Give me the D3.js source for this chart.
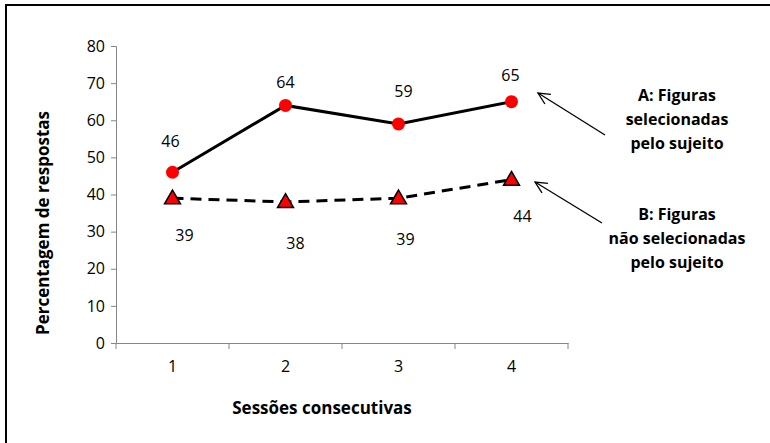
<!DOCTYPE html>
<html>
<head>
<meta charset="utf-8">
<script src="https://cdn.jsdelivr.net/npm/d3@7"></script>
<style>
  html, body { margin: 0; padding: 0; background: #fff; }
  svg { display: block; }
  text { font-family: "Liberation Sans Narrow", "Open Sans", "Noto Sans", sans-serif; fill: #000; }
</style>
</head>
<body>
<svg id="chart" width="770" height="443"></svg>
<script>
// Sessions and percentages of responses per series
const sessions = ["1", "2", "3", "4"];
const selected = [46, 64, 59, 65];      // A: figures selected by the subject
const notSelected = [39, 38, 39, 44];   // B: figures not selected by the subject
const yTicks = [0, 10, 20, 30, 40, 50, 60, 70, 80];

// Label offsets (dx, dy) relative to each point
const selectedLabelOffset = [[-2, -31], [0, -23], [5, -33], [-1, -26]];
const notSelectedLabelOffset = [[12, 37], [10, 41], [7, 41], [11, 37]];

const svg = d3.select("#chart");
const plot = { left: 116, right: 568, top: 46, bottom: 343 };

const x = d3.scaleBand().domain(sessions).range([plot.left, plot.right]);
const y = d3.scaleLinear().domain([0, 80]).range([plot.bottom, plot.top]);
const cx = s => x(s) + x.bandwidth() / 2;

// Frame (top and left edges)
svg.append("path")
  .attr("d", "M6,443 V5 H770")
  .attr("fill", "none").attr("stroke", "#000").attr("stroke-width", 2);

// Y axis
const yAxis = svg.append("g")
  .attr("transform", `translate(${plot.left},0)`)
  .call(d3.axisLeft(y).tickValues(yTicks).tickSize(5).tickPadding(6));
yAxis.select(".domain").attr("stroke", "#868686");
yAxis.selectAll(".tick line").attr("stroke", "#868686");
yAxis.selectAll(".tick text").attr("font-size", 16).attr("fill", "#000");

// X axis with ticks on band boundaries
const xAxis = svg.append("g")
  .attr("transform", `translate(0,${plot.bottom})`)
  .call(d3.axisBottom(x).tickSize(0).tickPadding(18));
xAxis.select(".domain").attr("stroke", "#868686");
xAxis.selectAll(".tick text").attr("font-size", 16).attr("fill", "#000");
xAxis.selectAll(".bound")
  .data(sessions.map(s => x(s)).concat([plot.right]))
  .join("line")
  .attr("class", "bound")
  .attr("x1", d => d).attr("x2", d => d)
  .attr("y1", 0).attr("y2", 6)
  .attr("stroke", "#868686");

// Axis titles
svg.append("text")
  .attr("transform", `translate(49,223) rotate(-90)`)
  .attr("text-anchor", "middle")
  .attr("font-size", 17).attr("font-weight", "bold")
  .text("Percentagem de respostas");

svg.append("text")
  .attr("x", 322).attr("y", 414)
  .attr("text-anchor", "middle")
  .attr("font-size", 17).attr("font-weight", "bold")
  .text("Sessões consecutivas");

// Series lines
const line = d3.line().x((d, i) => cx(sessions[i])).y(d => y(d));

svg.append("path")
  .datum(notSelected)
  .attr("d", line)
  .attr("fill", "none").attr("stroke", "#000")
  .attr("stroke-width", 3).attr("stroke-dasharray", "11,7");

svg.append("path")
  .datum(selected)
  .attr("d", line)
  .attr("fill", "none").attr("stroke", "#000")
  .attr("stroke-width", 3);

// Markers
svg.selectAll(".circ")
  .data(selected)
  .join("circle")
  .attr("class", "circ")
  .attr("cx", (d, i) => cx(sessions[i]))
  .attr("cy", d => y(d))
  .attr("r", 6.5)
  .attr("fill", "#ff0000");

const tri = d3.symbol().type(d3.symbolTriangle).size(110);
svg.selectAll(".tri")
  .data(notSelected)
  .join("path")
  .attr("class", "tri")
  .attr("transform", (d, i) => `translate(${cx(sessions[i])},${y(d) + 1})`)
  .attr("d", tri)
  .attr("fill", "#ff0000")
  .attr("stroke", "#000").attr("stroke-width", 1.5);

// Data labels
svg.selectAll(".labA")
  .data(selected)
  .join("text")
  .attr("class", "labA")
  .attr("x", (d, i) => cx(sessions[i]) + selectedLabelOffset[i][0])
  .attr("y", (d, i) => y(d) + selectedLabelOffset[i][1])
  .attr("dy", "0.35em")
  .attr("text-anchor", "middle")
  .attr("font-size", 16)
  .text(d => d);

svg.selectAll(".labB")
  .data(notSelected)
  .join("text")
  .attr("class", "labB")
  .attr("x", (d, i) => cx(sessions[i]) + notSelectedLabelOffset[i][0])
  .attr("y", (d, i) => y(d) + notSelectedLabelOffset[i][1])
  .attr("dy", "0.35em")
  .attr("text-anchor", "middle")
  .attr("font-size", 16)
  .text(d => d);

// Annotations with open arrowheads
const notes = [
  { lines: ["A: Figuras", "selecionadas", "pelo sujeito"], y0: 95, from: [605, 135], to: [538, 93] },
  { lines: ["B: Figuras", "não selecionadas", "pelo sujeito"], y0: 214, from: [602, 223], to: [535, 182] }
];

notes.forEach(n => {
  const t = svg.append("text")
    .attr("text-anchor", "middle")
    .attr("font-size", 16).attr("font-weight", "bold");
  n.lines.forEach((l, i) => {
    t.append("tspan").attr("x", 677).attr("y", n.y0 + i * 24).attr("dy", "0.35em").text(l);
  });
  const [x1, y1] = n.from, [x2, y2] = n.to;
  svg.append("line")
    .attr("x1", x1).attr("y1", y1).attr("x2", x2).attr("y2", y2)
    .attr("stroke", "#000").attr("stroke-width", 1.3);
  const ang = Math.atan2(y1 - y2, x1 - x2);
  const len = 13, spread = 0.45;
  const head = [ang - spread, ang + spread].map(a => [x2 + len * Math.cos(a), y2 + len * Math.sin(a)]);
  svg.append("path")
    .attr("d", `M${head[0][0]},${head[0][1]} L${x2},${y2} L${head[1][0]},${head[1][1]}`)
    .attr("fill", "none").attr("stroke", "#000").attr("stroke-width", 1.3);
});
</script>
</body>
</html>
